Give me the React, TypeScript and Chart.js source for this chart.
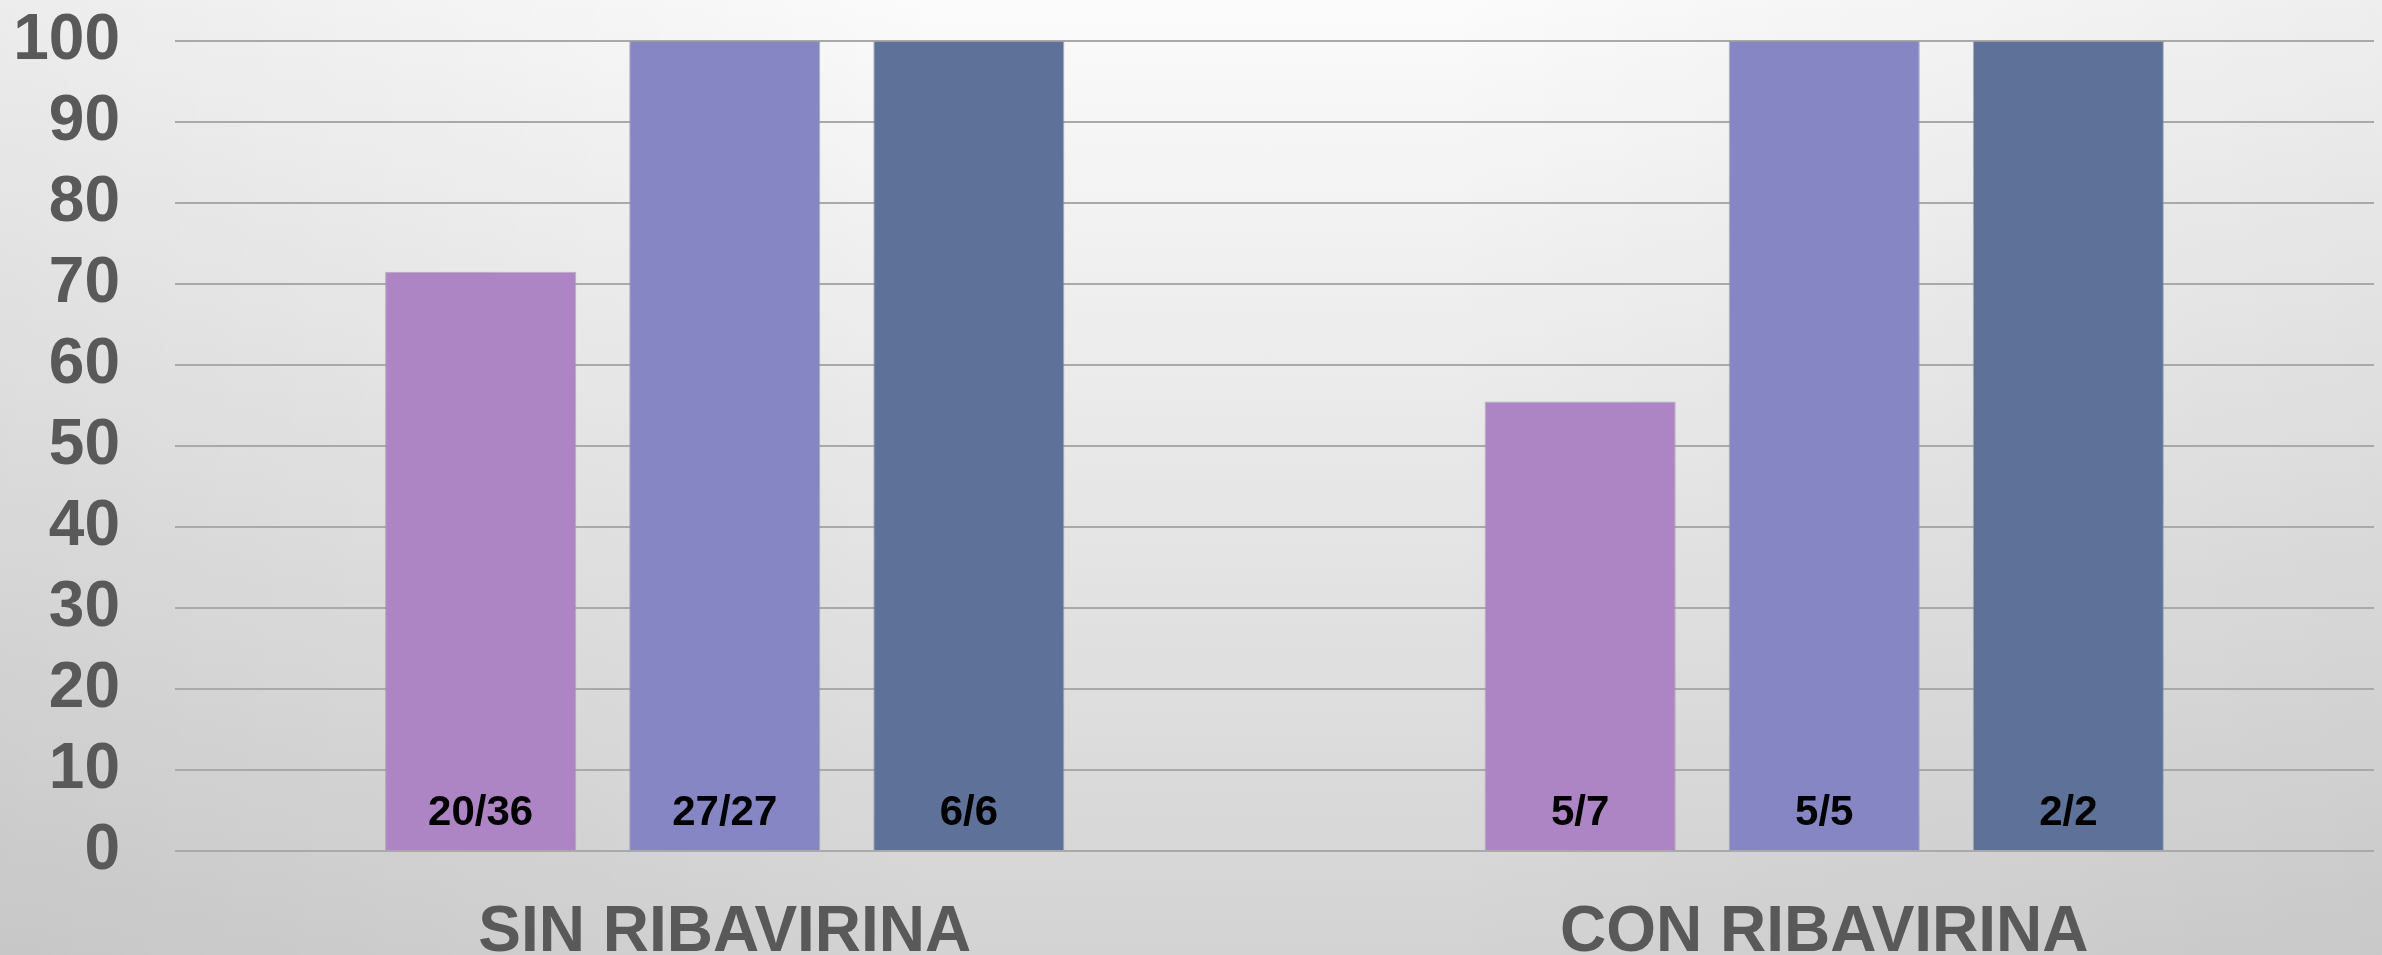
import React, { useEffect, useRef } from "react";
import { Chart, registerables } from "chart.js";

Chart.register(...registerables);

const categories: string[] = ["SIN RIBAVIRINA", "CON RIBAVIRINA"];
const seriesA: number[] = [71.5, 55.5];
const seriesB: number[] = [100, 100];
const seriesC: number[] = [100, 100];
const labelsA: string[] = ["20/36", "5/7"];
const labelsB: string[] = ["27/27", "5/5"];
const labelsC: string[] = ["6/6", "2/2"];
const yTicks: number[] = [0, 10, 20, 30, 40, 50, 60, 70, 80, 90, 100];

const FONT = "'Liberation Sans', Arial, sans-serif";

const barLabelPlugin = {
  id: "barLabels",
  afterDatasetsDraw(chart: any) {
    const ctx = chart.ctx;
    const yScale = chart.scales.y;
    const baseY = yScale.getPixelForValue(0);
    ctx.save();
    ctx.font = `bold 42px ${FONT}`;
    ctx.fillStyle = "#000000";
    ctx.textAlign = "center";
    ctx.textBaseline = "middle";
    chart.data.datasets.forEach((ds: any, i: number) => {
      const meta = chart.getDatasetMeta(i);
      meta.data.forEach((bar: any, j: number) => {
        const txt = ds.barLabels[j];
        ctx.fillText(txt, bar.x, baseY - 38);
      });
    });
    ctx.restore();
  },
};

export default function App() {
  const canvasRef = useRef<HTMLCanvasElement | null>(null);

  useEffect(() => {
    if (!canvasRef.current) return;
    const chart = new Chart(canvasRef.current, {
      type: "bar",
      data: {
        labels: categories,
        datasets: [
          {
            label: "A",
            data: seriesA,
            backgroundColor: "#ad85c5",
            borderColor: "rgba(150,150,160,0.7)",
            borderWidth: 1,
            barLabels: labelsA,
          } as any,
          {
            label: "B",
            data: seriesB,
            backgroundColor: "#8786c5",
            borderColor: "rgba(150,150,160,0.7)",
            borderWidth: 1,
            barLabels: labelsB,
          } as any,
          {
            label: "C",
            data: seriesC,
            backgroundColor: "#5e7299",
            borderColor: "rgba(150,150,160,0.7)",
            borderWidth: 1,
            barLabels: labelsC,
          } as any,
        ],
      },
      options: {
        animation: false,
        responsive: true,
        maintainAspectRatio: false,
        layout: { padding: { top: 0, right: 8, left: 0, bottom: 0 } },
        datasets: {
          bar: { categoryPercentage: 0.666, barPercentage: 0.783 },
        },
        plugins: {
          legend: { display: false },
          tooltip: { enabled: false },
        },
        scales: {
          x: {
            grid: { display: false },
            border: { display: false },
            ticks: {
              color: "#595959",
              padding: 36,
              autoSkip: false,
              maxRotation: 0,
              font: { family: FONT, size: 64, weight: "bold" },
            },
            afterFit: (s: any) => {
              s.height = 104;
              s.paddingLeft = 0;
              s.paddingRight = 0;
            },
          },
          y: {
            min: 0,
            max: 100,
            afterBuildTicks: (s: any) => {
              s.ticks = yTicks.map((v) => ({ value: v }));
            },
            grid: { color: "#a9a9a9", lineWidth: 2, drawTicks: false },
            border: { display: false },
            ticks: {
              color: "#595959",
              padding: 55,
              autoSkip: false,
              font: { family: FONT, size: 64, weight: "bold" },
            },
            afterFit: (s: any) => {
              s.width = 175;
              s.paddingTop = 41;
              s.paddingBottom = 0;
            },
          },
        },
      },
      plugins: [barLabelPlugin],
    });
    return () => chart.destroy();
  }, []);

  return (
    <div
      style={{
        position: "fixed",
        left: 0,
        top: 0,
        width: 2382,
        height: 955,
        background:
          "linear-gradient(to right, rgba(0,0,0,0.06), rgba(0,0,0,0) 40%, rgba(0,0,0,0) 60%, rgba(0,0,0,0.05)), linear-gradient(to bottom, #fbfbfb, #d3d3d3)",
      }}
    >
      <canvas ref={canvasRef} />
    </div>
  );
}
